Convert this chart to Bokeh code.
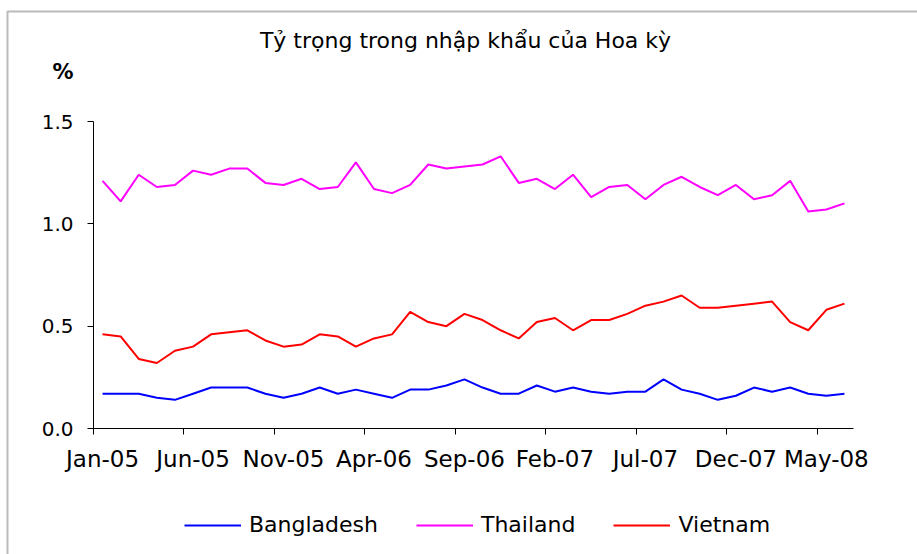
from bokeh.plotting import figure
from bokeh.models import (Range1d, FixedTicker, NumeralTickFormatter, Label,
                          Legend, LegendItem, BoxAnnotation)
from bokeh.embed import file_html
from bokeh.resources import INLINE

# ---------------- data ----------------
months = ["Jan-05", "Feb-05", "Mar-05", "Apr-05", "May-05", "Jun-05", "Jul-05",
          "Aug-05", "Sep-05", "Oct-05", "Nov-05", "Dec-05", "Jan-06", "Feb-06",
          "Mar-06", "Apr-06", "May-06", "Jun-06", "Jul-06", "Aug-06", "Sep-06",
          "Oct-06", "Nov-06", "Dec-06", "Jan-07", "Feb-07", "Mar-07", "Apr-07",
          "May-07", "Jun-07", "Jul-07", "Aug-07", "Sep-07", "Oct-07", "Nov-07",
          "Dec-07", "Jan-08", "Feb-08", "Mar-08", "Apr-08", "May-08", "Jun-08"]

bangladesh = [0.17, 0.17, 0.17, 0.15, 0.14, 0.17, 0.20, 0.20, 0.20, 0.17,
              0.15, 0.17, 0.20, 0.17, 0.19, 0.17, 0.15, 0.19, 0.19, 0.21,
              0.24, 0.20, 0.17, 0.17, 0.21, 0.18, 0.20, 0.18, 0.17, 0.18,
              0.18, 0.24, 0.19, 0.17, 0.14, 0.16, 0.20, 0.18, 0.20, 0.17,
              0.16, 0.17]

thailand = [1.21, 1.11, 1.24, 1.18, 1.19, 1.26, 1.24, 1.27, 1.27, 1.20,
            1.19, 1.22, 1.17, 1.18, 1.30, 1.17, 1.15, 1.19, 1.29, 1.27,
            1.28, 1.29, 1.33, 1.20, 1.22, 1.17, 1.24, 1.13, 1.18, 1.19,
            1.12, 1.19, 1.23, 1.18, 1.14, 1.19, 1.12, 1.14, 1.21, 1.06,
            1.07, 1.10]

vietnam = [0.46, 0.45, 0.34, 0.32, 0.38, 0.40, 0.46, 0.47, 0.48, 0.43,
           0.40, 0.41, 0.46, 0.45, 0.40, 0.44, 0.46, 0.57, 0.52, 0.50,
           0.56, 0.53, 0.48, 0.44, 0.52, 0.54, 0.48, 0.53, 0.53, 0.56,
           0.60, 0.62, 0.65, 0.59, 0.59, 0.60, 0.61, 0.62, 0.52, 0.48,
           0.58, 0.61]

series_names = ["Bangladesh", "Thailand", "Vietnam"]
series_values = [bangladesh, thailand, vietnam]
series_colors = ["#0000FF", "#FF00FF", "#FF0000"]

y_ticks = [0.0, 0.5, 1.0, 1.5]
y_min, y_max = 0.0, 1.5
label_step = 5
title_text = "Tỷ trọng trong nhập khẩu của Hoa kỳ"
unit_text = "%"

# ---------------- layout constants (pixels) ----------------
W, H = 917, 554
AX_LEFT, AX_RIGHT = 93, 853      # plot area left / right edge
AX_TOP, AX_BOTTOM = 121, 428     # plot area top (y_max) / bottom (y_min)
FONT = "DejaVu Sans"
n = len(months)

# the frame covers the whole canvas; axes are pinned at fixed locations
px_per_cat = (AX_RIGHT - AX_LEFT) / n
x_start = -0.5 - AX_LEFT / px_per_cat
x_end = x_start + W / px_per_cat
px_per_unit = (AX_BOTTOM - AX_TOP) / (y_max - y_min)
y_start = y_min - (H - AX_BOTTOM) / px_per_unit
y_end = y_start + H / px_per_unit

p = figure(width=W, height=H, output_backend="svg", toolbar_location=None,
           x_range=Range1d(x_start, x_end), y_range=Range1d(y_start, y_end),
           min_border=0, min_border_left=0, min_border_right=0,
           min_border_top=0, min_border_bottom=0)
p.outline_line_color = None
p.grid.visible = False
p.background_fill_color = "white"
p.border_fill_color = "white"

# x axis: tick marks between categories, labels under every 5th category
label_pos = list(range(0, n, label_step))
xa = p.xaxis[0]
xa.fixed_location = y_min
xa.bounds = (-0.5, n - 0.5)
xa.ticker = FixedTicker(ticks=label_pos, minor_ticks=[t - 0.5 for t in label_pos])
xa.major_label_overrides = {i: months[i] for i in label_pos}
xa.major_tick_line_color = None
xa.major_tick_out = 0
xa.major_tick_in = 0
xa.minor_tick_line_color = "black"
xa.minor_tick_out = 6
xa.minor_tick_in = 0
xa.axis_line_color = "black"
xa.major_label_standoff = 11
xa.major_label_text_font = FONT
xa.major_label_text_font_size = "23px"
xa.major_label_text_color = "black"

# y axis
ya = p.yaxis[0]
ya.fixed_location = -0.5
ya.bounds = (y_min, y_max)
ya.ticker = FixedTicker(ticks=y_ticks)
ya.formatter = NumeralTickFormatter(format="0.0")
ya.major_tick_line_color = "black"
ya.major_tick_out = 6
ya.major_tick_in = 0
ya.minor_tick_line_color = None
ya.axis_line_color = "black"
ya.major_label_standoff = 14
ya.major_label_text_font = FONT
ya.major_label_text_font_size = "20px"
ya.major_label_text_color = "black"

xs = list(range(n))
renderers = []
for name, vals, col in zip(series_names, series_values, series_colors):
    r = p.line(x=xs, y=vals, line_color=col, line_width=2)
    renderers.append(r)

# legend in a row below the axis (screen units, measured from bottom-left)
legend = Legend(items=[LegendItem(label=nm, renderers=[r])
                       for nm, r in zip(series_names, renderers)],
                location=(184, H - 537), orientation="horizontal",
                glyph_width=57, glyph_height=24, label_height=24,
                label_standoff=8, spacing=38, padding=0, margin=0,
                border_line_color=None, background_fill_alpha=0,
                label_text_font=FONT, label_text_font_size="22px",
                label_text_color="black")
p.add_layout(legend)

# title and unit
p.add_layout(Label(x=465, y=H - 40, x_units="screen", y_units="screen",
                   text=title_text, text_align="center",
                   text_baseline="middle", text_font=FONT,
                   text_font_size="22px", text_color="black"))
p.add_layout(Label(x=52, y=H - 71, x_units="screen", y_units="screen",
                   text=unit_text, text_align="left",
                   text_baseline="middle", text_font=FONT,
                   text_font_style="bold",
                   text_font_size="21px", text_color="black"))

# outer chart border (only its left and top edges fall inside the picture)
p.add_layout(BoxAnnotation(left=7, right=W + 50, top=H - 11, bottom=-50,
                           left_units="screen", right_units="screen",
                           top_units="screen", bottom_units="screen",
                           fill_alpha=0, line_color="#1a1a1a", line_width=2))

open("out.html", "w").write(file_html(p, INLINE))
